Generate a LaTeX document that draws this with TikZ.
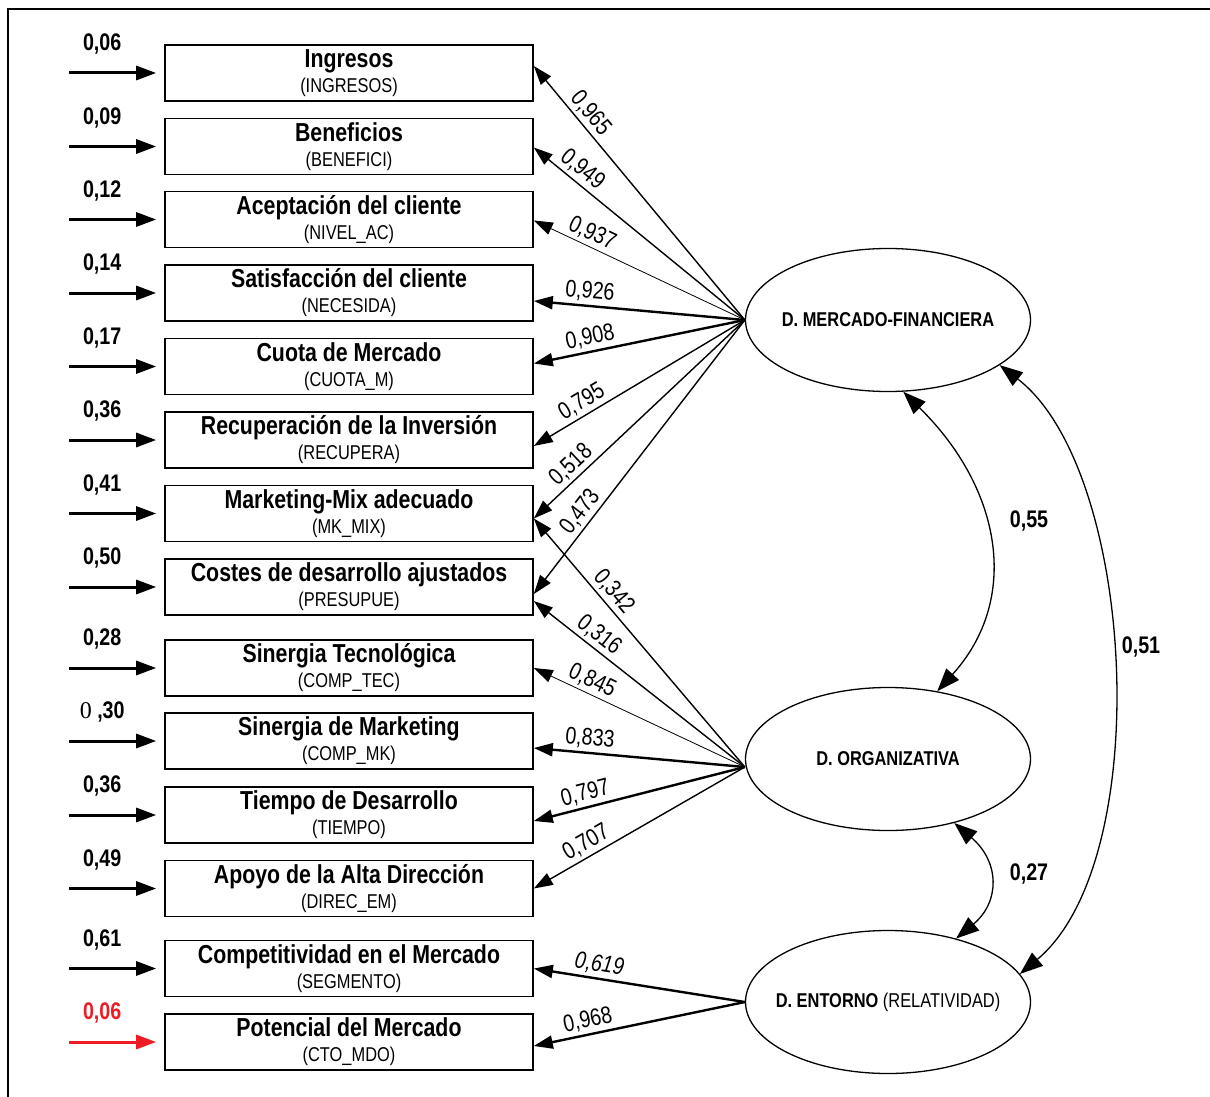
\documentclass[tikz,border=0pt]{standalone}
\usepackage{fontspec}
\setmainfont[FakeStretch=0.82]{Liberation Sans}
\newfontfamily\serifdigit{Liberation Serif}
\usetikzlibrary{arrows.meta,shapes.geometric,calc}
\definecolor{errred}{RGB}{237,28,36}
\newcommand\boxtitle[1]{{\fontsize{26}{25}\selectfont\bfseries #1}}

\begin{document}
\begin{tikzpicture}[x=1pt,y=-1pt,
  indicator/.style={draw, line width=1.6pt, minimum width=368pt, minimum height=56pt,
    inner sep=0pt, align=center, font=\fontsize{20}{25}\selectfont},
  latent/.style={draw, ellipse, line width=1.3pt, minimum width=285pt, minimum height=143pt,
    inner sep=0pt},
  latentlabel/.style={font=\fontsize{20}{24}\selectfont},
  errarrow/.style={line width=3pt, -{Triangle[length=20pt,width=14pt]}, shorten >=8pt},
  errlabel/.style={font=\fontsize{24}{24}\selectfont\bfseries},
  load/.style={-{Triangle[length=19pt,width=13pt]}},
  thinload/.style={load, line width=0.8pt},
  midload/.style={load, line width=1.4pt},
  thickload/.style={load, line width=2.4pt},
  loadlabel/.style={sloped, above, inner sep=3pt, font=\fontsize{24}{24}\selectfont},
  corr/.style={line width=1.3pt, {Triangle[length=23pt,width=17pt]}-{Triangle[length=23pt,width=17pt]}},
  corrlabel/.style={font=\fontsize{24}{24}\selectfont\bfseries},
]
\useasboundingbox (0,0) rectangle (1210,1097);

% frame
\draw[line width=2pt] (8,1097) -- (8,9) -- (1210,9);

% observed indicators
\node[indicator] (b1)  at (349,73)     {\boxtitle{Ingresos}\\(INGRESOS)};
\node[indicator] (b2)  at (349,146.5)  {\boxtitle{Beneficios}\\(BENEFICI)};
\node[indicator] (b3)  at (349,219.5)  {\boxtitle{Aceptación del cliente}\\(NIVEL\_AC)};
\node[indicator] (b4)  at (349,293)    {\boxtitle{Satisfacción del cliente}\\(NECESIDA)};
\node[indicator] (b5)  at (349,366.5)  {\boxtitle{Cuota de Mercado}\\(CUOTA\_M)};
\node[indicator] (b6)  at (349,440)    {\boxtitle{Recuperación de la Inversión}\\(RECUPERA)};
\node[indicator] (b7)  at (349,513.5)  {\boxtitle{Marketing-Mix adecuado}\\(MK\_MIX)};
\node[indicator] (b8)  at (349,587)    {\boxtitle{Costes de desarrollo ajustados}\\(PRESUPUE)};
\node[indicator] (b9)  at (349,668)    {\boxtitle{Sinergia Tecnológica}\\(COMP\_TEC)};
\node[indicator] (b10) at (349,741)    {\boxtitle{Sinergia de Marketing}\\(COMP\_MK)};
\node[indicator] (b11) at (349,815)    {\boxtitle{Tiempo de Desarrollo}\\(TIEMPO)};
\node[indicator] (b12) at (349,888.5)  {\boxtitle{Apoyo de la Alta Dirección}\\(DIREC\_EM)};
\node[indicator] (b13) at (349,968.5)  {\boxtitle{Competitividad en el Mercado}\\(SEGMENTO)};
\node[indicator] (b14) at (349,1042)   {\boxtitle{Potencial del Mercado}\\(CTO\_MDO)};

% error terms
\foreach \i/\v in {1/{0,06},2/{0,09},3/{0,12},4/{0,14},5/{0,17},6/{0,36},7/{0,41},
                   8/{0,50},9/{0,28},11/{0,36},12/{0,49},13/{0,61}}{
  \coordinate (e\i) at ($(b\i.west)+(-95,0)$);
  \draw[errarrow] (e\i) -- (b\i.west);
  \node[errlabel] at ($(e\i)+(33,-29)$) {\v};
}
\coordinate (e10) at ($(b10.west)+(-95,0)$);
\draw[errarrow] (e10) -- (b10.west);
\node[errlabel] at ($(e10)+(33,-29)$) {{\serifdigit\mdseries 0} ,30};
\coordinate (e14) at ($(b14.west)+(-95,0)$);
\draw[errarrow, errred] (e14) -- (b14.west);
\node[errlabel, text=errred] at ($(e14)+(33,-29)$) {0,06};

% latent dimensions
\node[latent, label={[latentlabel]center:\textbf{D. MERCADO-FINANCIERA}}] (mf) at (888,320) {};
\node[latent, label={[latentlabel]center:\textbf{D. ORGANIZATIVA}}] (org) at (888,759) {};
\node[latent, label={[latentlabel]center:\textbf{D. ENTORNO} (RELATIVIDAD)}] (ent) at (888,1002) {};

\coordinate (mfp) at (mf.west);
\coordinate (orgp) at ($(org.west)+(0,8)$);
\coordinate (entp) at (ent.west);

% loadings of D. MERCADO-FINANCIERA
\draw[midload]   (mfp) -- ($(b1.east)+(0,-7)$) node[loadlabel,pos=.78] {0,965};
\draw[midload]   (mfp) -- ($(b2.east)+(0,1)$)  node[loadlabel,pos=.81] {0,949};
\draw[thinload]  (mfp) -- ($(b3.east)+(0,1)$)  node[loadlabel,pos=.75] {0,937};
\draw[thickload] (mfp) -- ($(b4.east)+(0,8)$)  node[loadlabel,pos=.74] {0,926};
\draw[thickload] (mfp) -- ($(b5.east)+(0,-3)$) node[loadlabel,pos=.72] {0,908};
\draw[midload]   (mfp) -- ($(b6.east)+(0,6)$)  node[loadlabel,pos=.74] {0,795};
\draw[midload]   (mfp) -- ($(b7.east)+(0,5)$)  node[loadlabel,pos=.78] {0,518};
\draw[midload]   (mfp) -- ($(b8.east)+(0,7)$)  node[loadlabel,pos=.73] {0,473};

% loadings of D. ORGANIZATIVA
\draw[midload]   (orgp) -- ($(b7.east)+(0,5)$)   node[loadlabel,pos=.67] {0,342};
\draw[midload]   (orgp) -- ($(b8.east)+(0,14)$)  node[loadlabel,pos=.73] {0,316};
\draw[thinload]  (orgp) -- ($(b9.east)+(0,0)$)   node[loadlabel,pos=.75] {0,845};
\draw[thickload] (orgp) -- ($(b10.east)+(0,7)$)  node[loadlabel,pos=.74] {0,833};
\draw[thickload] (orgp) -- ($(b11.east)+(0,6)$)  node[loadlabel,pos=.74] {0,797};
\draw[midload]   (orgp) -- ($(b12.east)+(0,0)$)  node[loadlabel,pos=.72] {0,707};

% loadings of D. ENTORNO
\draw[thickload] (entp) -- ($(b13.east)+(0,0)$) node[loadlabel,pos=.70] {\itshape 0,619};
\draw[thickload] (entp) -- ($(b14.east)+(0,4)$) node[loadlabel,pos=.73] {0,968};

% correlations between dimensions
\draw[corr] (mf.-78) .. controls (1003,490) and (1020,600) .. (org.54);
\draw[corr] (org.-44) .. controls (1000,862) and (1000,902) .. (ent.43);
\draw[corr] (mf.-22) .. controls (1136,470) and (1156,860) .. (ent.12);
\node[corrlabel] at (1029,521) {0,55};
\node[corrlabel] at (1141,647) {0,51};
\node[corrlabel] at (1029,874) {0,27};
\end{tikzpicture}
\end{document}
